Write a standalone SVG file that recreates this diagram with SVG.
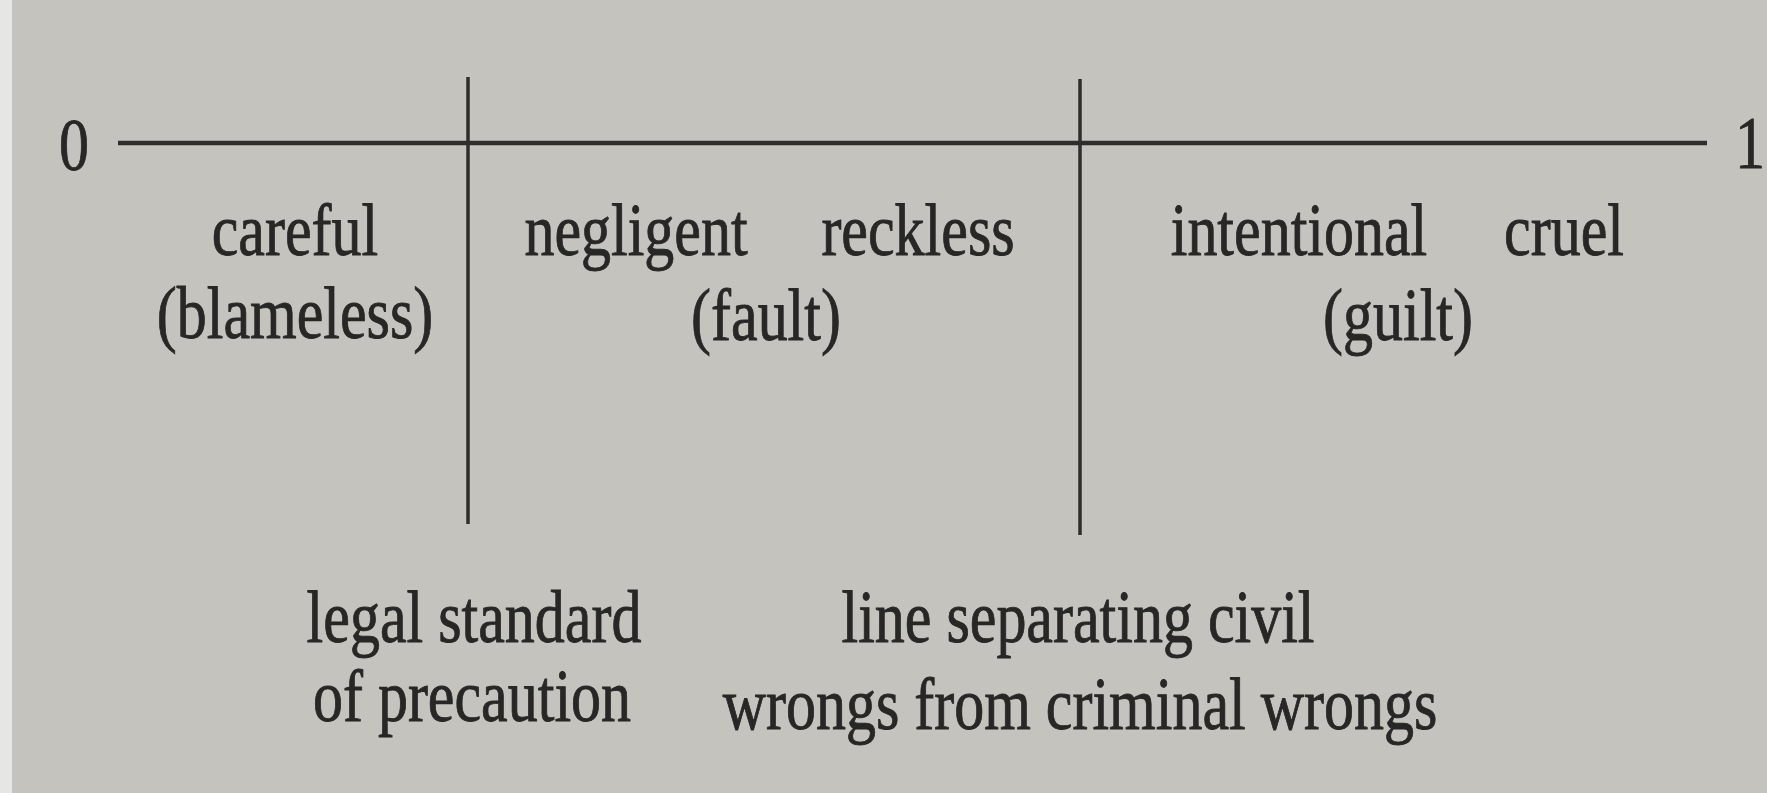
<svg xmlns="http://www.w3.org/2000/svg" width="1767" height="793" viewBox="0 0 1767 793">
<style>
.t{font-family:"Liberation Serif","Times New Roman",serif;font-size:60px;fill:#272726;stroke:#272726;stroke-width:0.7;text-anchor:middle}
.ln{stroke:#2e2e2c;fill:none}
</style>
<rect x="0" y="0" width="1767" height="793" fill="#c4c3bd"/>
<rect x="0" y="0" width="12" height="793" fill="#e6e6e4"/>
<g id="connectors">
<line class="ln" x1="118" y1="143" x2="1707" y2="143" stroke-width="4.5"/>
<line class="ln" x1="468" y1="77" x2="468" y2="524" stroke-width="3.5"/>
<line class="ln" x1="1080" y1="79" x2="1080" y2="535" stroke-width="3.5"/>
</g>
<g transform="scale(1,1.22)">
<g id="end0"><text class="t" x="74" y="139.5">0</text></g>
<g id="end1"><text class="t" x="1750" y="137.6">1</text></g>
<g id="blameless"><text class="t" x="295" y="209.3">careful</text><text class="t" x="295" y="277.1">(blameless)</text></g>
<g id="fault"><text class="t" x="636" y="209.3">negligent</text><text class="t" x="918" y="209.3">reckless</text><text class="t" x="766" y="279">(fault)</text></g>
<g id="guilt"><text class="t" x="1299" y="209.3">intentional</text><text class="t" x="1564" y="209.3">cruel</text><text class="t" x="1398" y="279">(guilt)</text></g>
<g id="standard"><text class="t" x="474" y="526">legal standard</text><text class="t" x="472" y="591">of precaution</text></g>
<g id="civil"><text class="t" x="1078" y="526">line separating civil</text><text class="t" x="1080" y="597.6">wrongs from criminal wrongs</text></g>
</g>
</svg>
